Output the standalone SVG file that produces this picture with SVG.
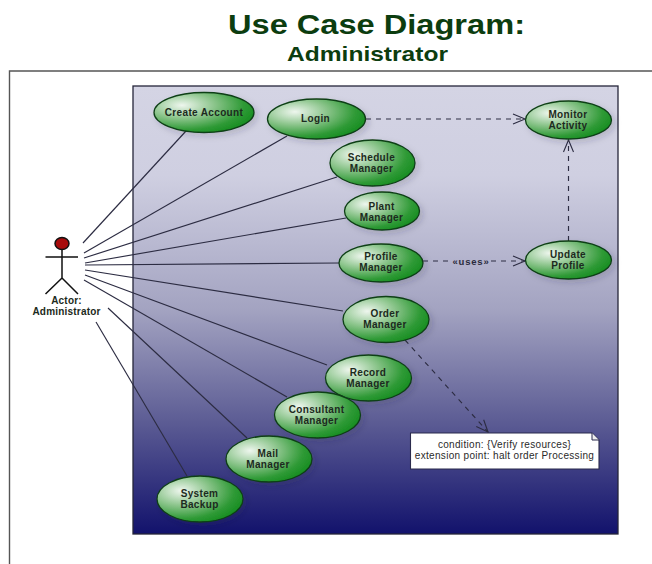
<svg xmlns="http://www.w3.org/2000/svg" width="652" height="564" viewBox="0 0 652 564">
<style>
text{font-family:"Liberation Sans",Arial,sans-serif;text-anchor:middle}
.uc ellipse{fill:url(#green);stroke:#0f3f16;stroke-width:1.3;filter:url(#shadow)}
.uc text{font-size:10px;font-weight:bold;fill:#1c2a20;letter-spacing:.35px}
.assoc{stroke:#2c2c42;stroke-width:1.150;fill:none}
.dash{stroke:#2c2c42;stroke-width:1.150;fill:none;stroke-dasharray:5 5;marker-end:url(#open)}
.title{font-weight:bold;fill:#0c3d0f}
.actor{stroke:#111;stroke-width:1.500;fill:none}
.actor-label{font-size:10px;font-weight:bold;fill:#1c2a20;letter-spacing:.2px}
.note-text{font-size:10px;fill:#2a2a2a;letter-spacing:.32px}
</style>
<defs>
<linearGradient id="panel" x1="0" y1="0" x2="0" y2="1">
<stop offset="0" stop-color="#d4d4e4"/>
<stop offset=".2" stop-color="#cfcfe1"/>
<stop offset=".5" stop-color="#a3a3c1"/>
<stop offset=".75" stop-color="#5c5c94"/>
<stop offset="1" stop-color="#12126c"/>
</linearGradient>
<radialGradient id="green" cx=".28" cy=".32" r=".82">
<stop offset="0" stop-color="#eef6ee"/>
<stop offset=".4" stop-color="#8ac48a"/>
<stop offset=".75" stop-color="#2f9a36"/>
<stop offset="1" stop-color="#118a1c"/>
</radialGradient>
<filter id="shadow" x="-20%" y="-20%" width="150%" height="150%">
<feDropShadow dx="3" dy="3" stdDeviation="3" flood-color="#202040" flood-opacity=".18"/>
</filter>
<marker id="open" markerUnits="userSpaceOnUse" markerWidth="16" markerHeight="14" refX="13" refY="7" orient="auto">
<path d="M1 2 L13 7 L1 12" fill="none" stroke="#2c2c42" stroke-width="1.100"/>
</marker>
</defs>
<rect width="652" height="564" fill="#fff"/>
<text class="title" x="376.500" y="34" font-size="28" textLength="297" lengthAdjust="spacingAndGlyphs">Use Case Diagram:</text>
<text class="title" x="367.500" y="61" font-size="21" textLength="161" lengthAdjust="spacingAndGlyphs">Administrator</text>
<path d="M9.500 564V71H652" fill="none" stroke="#555" stroke-width="1.400"/>
<rect id="system-boundary" x="133" y="86" width="485" height="448" fill="url(#panel)" stroke="#25253a" stroke-width="1.300"/>
<g id="connectors">
<path class="assoc" d="M83 243L186 131"/>
<path class="assoc" d="M84 253L287 136"/>
<path class="assoc" d="M84 258L337 177"/>
<path class="assoc" d="M85 263L346 218"/>
<path class="assoc" d="M85 265L339 263"/>
<path class="assoc" d="M85 270L343 311"/>
<path class="assoc" d="M85 275L327 365"/>
<path class="assoc" d="M84 280L287 397"/>
<path class="assoc" d="M108 308L247 438"/>
<path class="assoc" d="M96 322L187 476"/>
<path class="dash" d="M366 119H525"/>
<path class="dash" d="M568.500 241V140"/>
<path class="dash" d="M423 261H452M491 261H525"/>
<path class="dash" d="M405 340L488 432"/>
</g>
<text x="471" y="264.500" font-size="9.500" font-weight="bold" fill="#2b2b3d" letter-spacing=".8">«uses»</text>
<g id="actor">
<ellipse cx="62" cy="243.500" rx="7" ry="6" fill="#a80c0c" stroke="#111" stroke-width="1.500"/>
<path class="actor" d="M62 250V278M45.500 257H78M45.500 294L62 278L78 294"/>
<text class="actor-label" x="66.500" y="303.500">Actor:</text>
<text class="actor-label" x="66.500" y="314.500">Administrator</text>
</g>
<g id="create-account" class="uc"><ellipse cx="204" cy="112.500" rx="50" ry="20"/><text x="204" y="115.500">Create Account</text></g>
<g id="login" class="uc"><ellipse cx="316.500" cy="119" rx="49" ry="20"/><text x="315.500" y="122">Login</text></g>
<g id="monitor-activity" class="uc"><ellipse cx="568.500" cy="120" rx="43" ry="19"/><text x="568" y="117.500">Monitor</text><text x="568" y="128.500">Activity</text></g>
<g id="schedule-manager" class="uc"><ellipse cx="372.500" cy="163" rx="42.500" ry="23"/><text x="371.500" y="160.500">Schedule</text><text x="371.500" y="171.500">Manager</text></g>
<g id="plant-manager" class="uc"><ellipse cx="382" cy="211" rx="37.500" ry="19"/><text x="381.500" y="209.500">Plant</text><text x="381.500" y="220.500">Manager</text></g>
<g id="profile-manager" class="uc"><ellipse cx="381" cy="263" rx="42" ry="19"/><text x="381" y="260">Profile</text><text x="381" y="271">Manager</text></g>
<g id="update-profile" class="uc"><ellipse cx="568.500" cy="260" rx="43" ry="19"/><text x="568" y="257.500">Update</text><text x="568" y="268.500">Profile</text></g>
<g id="order-manager" class="uc"><ellipse cx="386" cy="319.500" rx="43" ry="23"/><text x="385" y="316.500">Order</text><text x="385" y="327.500">Manager</text></g>
<g id="record-manager" class="uc"><ellipse cx="368.500" cy="378" rx="43" ry="23"/><text x="368" y="375.500">Record</text><text x="368" y="386.500">Manager</text></g>
<g id="consultant-manager" class="uc"><ellipse cx="317.500" cy="415" rx="43" ry="23"/><text x="316.500" y="412.500">Consultant</text><text x="316.500" y="423.500">Manager</text></g>
<g id="mail-manager" class="uc"><ellipse cx="269" cy="459" rx="43" ry="23"/><text x="268" y="456.500">Mail</text><text x="268" y="467.500">Manager</text></g>
<g id="system-backup" class="uc"><ellipse cx="200" cy="499" rx="43" ry="23"/><text x="199.500" y="496.500">System</text><text x="199.500" y="507.500">Backup</text></g>
<g id="note">
<path d="M410.500 433H592L599 440V469H410.500Z" fill="#fff" stroke="#2b2b4d" stroke-width="1.100"/>
<path d="M592 433V440H599" fill="#eee" stroke="#2b2b4d" stroke-width="1"/>
<text class="note-text" x="504.500" y="448">condition: {Verify resources}</text>
<text class="note-text" x="504.500" y="459">extension point: halt order Processing</text>
</g>
</svg>
